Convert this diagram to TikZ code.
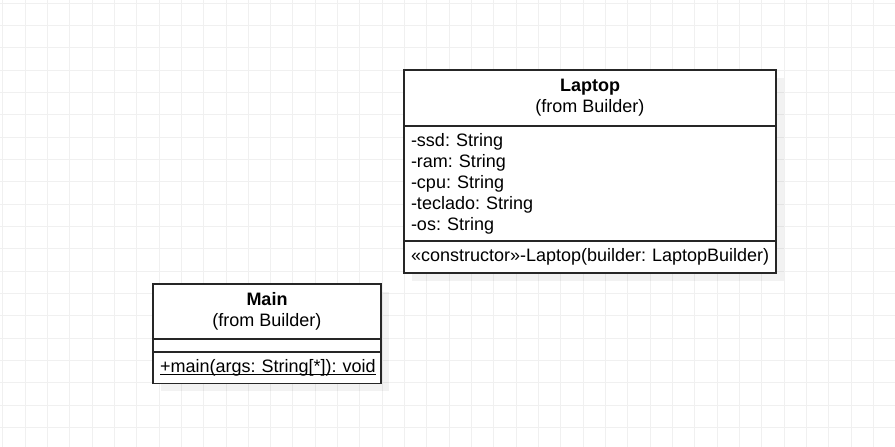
\documentclass[tikz,border=0pt]{standalone}
\usepackage{fontspec}
\setmainfont{Liberation Sans}
\usepackage{tikz}
\usetikzlibrary{positioning}

\newcommand{\staticop}[1]{\setbox0\hbox{#1}\rlap{\rule[-3pt]{\wd0}{1.2pt}}\box0}

\begin{document}
\frenchspacing
\begin{tikzpicture}[x=1pt, y=-1pt,
	gridline/.style={line width=1pt, draw=black!6},
	part/.style={draw=black!85, fill=white, line width=1.2pt, anchor=north west, inner sep=0pt,
		outer sep=0pt, font=\fontsize{18}{21}\selectfont},
	shade/.style={fill=black, fill opacity=0.05, draw=none}]
			\useasboundingbox (0,0) rectangle (895,447);
			\fill[white] (0,0) rectangle (895,447);
			
			\foreach \x in {0,...,40}
			\draw[gridline] (2.7+22.33*\x,0) -- (2.7+22.33*\x,447);
			\foreach \y in {0,...,19}
			\draw[gridline] (0,3.3+22.33*\y) -- (895,3.3+22.33*\y);
			
			% shadows
			\fill[shade] (412,78) rectangle (784,281);
			\fill[shade] (161,292) rectangle (389,391);
			
			% Laptop
			\node[part, minimum width=372pt, minimum height=56pt, align=center] (laptophead) at (404,70)
				{\textbf{Laptop}\\(from Builder)};
			\node[part, minimum width=372pt, minimum height=115pt, text width=358pt, align=left] (laptopattr) at (laptophead.south west)
				{-ssd: String\\-ram: String\\-cpu: String\\-teclado: String\\-os: String};
			\node[part, minimum width=372pt, minimum height=32pt, text width=358pt, align=left] (laptopops) at (laptopattr.south west)
				{\mbox{«constructor»-Laptop(builder: LaptopBuilder)}};
			
			% Main
			\node[part, minimum width=228pt, minimum height=55pt, align=center] (mainhead) at (153,284)
				{\textbf{Main}\\(from Builder)};
			\node[part, minimum width=228pt, minimum height=13pt] (mainattr) at (mainhead.south west) {};
			\node[part, minimum width=228pt, minimum height=31.5pt, text width=214pt, align=left] (mainops) at (mainattr.south west)
				{\staticop{+main(args: String[*]): void}};
		\end{tikzpicture}
\end{document}
